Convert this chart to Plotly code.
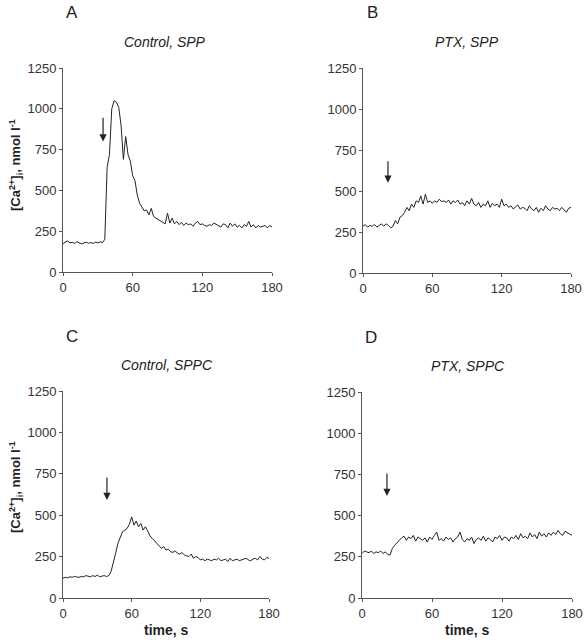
import plotly.graph_objects as go

time_s = list(range(0, 181, 2))

ca_control_spp = [
    170, 185, 190, 178, 182, 175, 186, 180, 172, 178,
    183, 176, 180, 175, 183, 178, 185, 180, 200, 640,
    720, 1000, 1050, 1040, 1010, 900, 690, 830, 720, 680,
    590, 560, 470, 420, 400, 375, 380, 350, 390, 340,
    330, 320, 315, 305, 295, 360, 300, 330, 295, 310,
    290, 305, 285, 300, 290, 295, 280, 300, 310, 290,
    295, 285, 280, 290, 285, 300, 290, 280, 275, 295,
    290, 270, 300, 280, 295, 275, 285, 270, 290, 280,
    310, 275, 290, 270, 285, 275, 280, 285, 270, 285,
    275,
]
ca_ptx_spp = [
    285, 295, 280, 290, 285, 295, 280, 290, 300, 285,
    300, 290, 275, 285, 320, 300, 340, 350, 370, 400,
    380, 420, 400, 440, 430, 470, 420, 480, 430, 440,
    425, 440, 430, 450, 435, 440, 430, 445, 420, 440,
    430, 445, 420, 430, 410, 440, 420, 455, 420, 410,
    430, 400, 420, 410, 440, 400, 425, 410, 420, 400,
    450, 410, 420, 400, 410, 390, 400, 415, 390, 400,
    395, 380, 410, 390, 380, 400, 370, 395, 380, 410,
    390, 380, 400, 390, 395, 380, 400, 385, 370, 395,
    400,
]
ca_control_sppc = [
    120, 125, 122, 128, 125, 130, 127, 125, 130, 128,
    135, 130, 128, 135, 130, 138, 128, 132, 135, 130,
    135, 160, 210, 270, 330, 370, 400, 410, 420, 445,
    490, 440, 465, 430, 450, 410, 430, 405, 375, 360,
    345, 330, 320, 300, 310, 290, 295, 280, 275, 285,
    270, 265, 275, 260, 255, 250, 265, 240, 250, 245,
    230, 235, 225, 235, 230, 225, 235, 230, 240, 225,
    230, 235, 220, 240, 225, 230, 235, 225, 230, 235,
    240, 230, 225, 235, 240, 230, 250, 235, 230, 245,
    240,
]
ca_ptx_sppc = [
    270, 285, 280, 275, 285, 270, 280, 275, 285, 270,
    280, 265, 260, 300, 320, 335, 355, 365, 375, 350,
    370, 360, 380, 345, 370, 360, 350, 365, 340, 370,
    355, 380, 400, 350, 360, 345, 370, 355, 365, 340,
    360, 370, 400, 355, 340, 360, 350, 370, 330, 355,
    365, 350, 375, 345, 365, 355, 340, 370, 360, 380,
    350, 370, 365, 345, 370, 360, 380, 355, 390, 365,
    375, 360, 395, 370, 385, 360, 400, 375, 390, 370,
    395, 380, 400, 385, 410, 390, 380, 405, 395, 390,
    380,
]

panel_letters = ["A", "B", "C", "D"]
panel_titles = ["Control, SPP", "PTX, SPP", "Control, SPPC", "PTX, SPPC"]
series = [ca_control_spp, ca_ptx_spp, ca_control_sppc, ca_ptx_sppc]
x_ticks = [0, 60, 120, 180]
y_ticks = [0, 250, 500, 750, 1000, 1250]
# arrow: time, tail value, tip value
arrows = [(34.5, 955, 800), (21.6, 690, 550), (38.4, 737, 592), (21.4, 765, 619)]

W, H = 587, 640
# plot areas in pixels: (left, right, top, bottom)
boxes = [(63, 272, 68, 272), (363, 571, 68, 273), (63, 269, 391, 598), (362, 572, 392, 598)]
title_x = [165, 467, 167, 468]

fig = go.Figure()
font_main = "Liberation Sans, Arial, sans-serif"


def note(x, y, text, size, **kw):
    fig.add_annotation(x=x / W, y=1 - y / H, xref="paper", yref="paper", text=text,
                       showarrow=False, xanchor="center", yanchor="middle",
                       font=dict(family=font_main, size=size, color="#222222"), **kw)


for i, (ys, box) in enumerate(zip(series, boxes)):
    n = "" if i == 0 else str(i + 1)
    l, r, t, b = box
    fig.add_trace(go.Scatter(x=time_s, y=ys, mode="lines",
                             line=dict(color="#222222", width=1),
                             xaxis="x" + n, yaxis="y" + n, showlegend=False))
    ax_common = dict(showgrid=False, zeroline=False, showline=True, linecolor="#555555",
                     linewidth=1, ticks="outside", ticklen=3, tickcolor="#555555",
                     automargin=False,
                     tickfont=dict(family=font_main, size=13, color="#333333"))
    fig.layout["xaxis" + n] = dict(domain=[l / W, r / W], range=[0, 180], tickvals=x_ticks,
                                   anchor="y" + n, **ax_common)
    fig.layout["yaxis" + n] = dict(domain=[1 - b / H, 1 - t / H], range=[0, 1250], tickvals=y_ticks,
                                   anchor="x" + n, **ax_common)
    note(title_x[i], t - 26, "<i>" + panel_titles[i] + "</i>", 14)
    note(l + 9, t - 55, panel_letters[i], 17)
    at, tail, tip = arrows[i]
    fig.add_annotation(x=at, y=tip, ax=at, ay=tail, xref="x" + n, yref="y" + n,
                       axref="x" + n, ayref="y" + n, text="", showarrow=True,
                       arrowhead=2, arrowsize=1.2, arrowwidth=1.2, arrowcolor="#222222")

for cy in (165, 487):
    note(16, cy, "<b>[Ca<sup>2+</sup>]<sub>i</sub>, nmol l<sup>-1</sup></b>", 13, textangle=-90)
for cx in (166, 467):
    note(cx, 630, "<b>time, s</b>", 14)

fig.update_layout(template="none", width=W, height=H, margin=dict(l=0, r=0, t=0, b=0, autoexpand=False),
                  paper_bgcolor="white", plot_bgcolor="white")

fig.write_html("out.html", config={"displayModeBar": False},
               post_script="document.body.style.margin='0px';")
